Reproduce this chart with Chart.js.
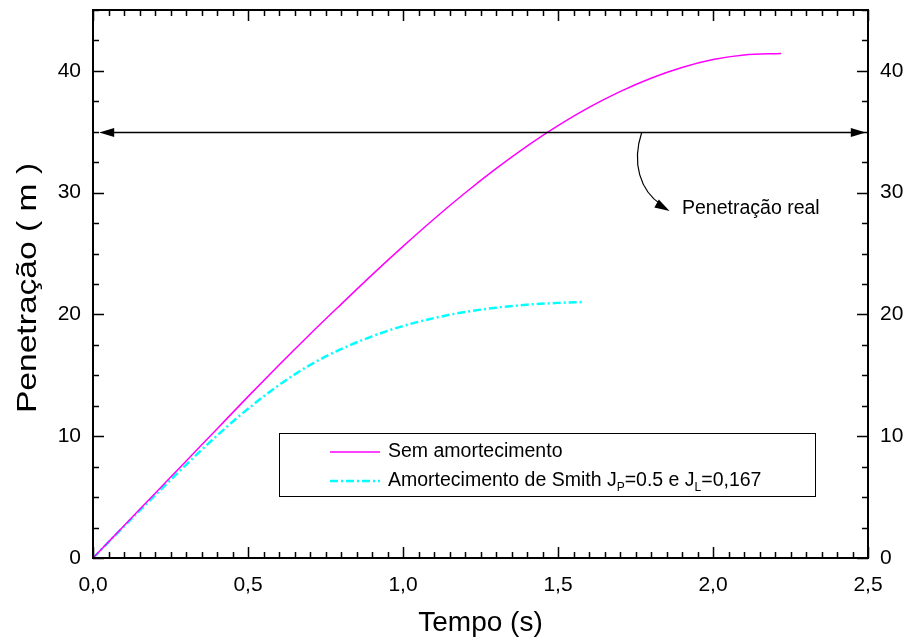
<!DOCTYPE html>
<html>
<head>
<meta charset="utf-8">
<script src="https://cdn.jsdelivr.net/npm/chart.js@4.4.0/dist/chart.umd.min.js"></script>
<style>
  html, body { margin: 0; padding: 0; background: #fff; }
  #wrap { width: 908px; height: 640px; }
</style>
</head>
<body>
<div id="wrap"><canvas id="myChart" width="908" height="640"></canvas></div>
<script>
// Sem amortecimento
const timeSem = [0, 0.1, 0.2, 0.3, 0.4, 0.5, 0.6, 0.7, 0.8, 0.9, 1.0, 1.1, 1.2, 1.3, 1.4, 1.5, 1.6, 1.7, 1.8, 1.9, 2.0, 2.1, 2.22];
const penSem = [0, 2.65, 5.30, 7.95, 10.60, 13.25, 15.85, 18.38, 20.83, 23.25, 25.59, 27.84, 29.97, 31.97, 33.82, 35.50, 37.00, 38.30, 39.40, 40.28, 40.93, 41.31, 41.43];
// Amortecimento de Smith
const timeSmith = [0, 0.1, 0.2, 0.3, 0.4, 0.5, 0.6, 0.7, 0.8, 0.9, 1.0, 1.1, 1.2, 1.3, 1.4, 1.5, 1.58];
const penSmith = [0, 2.6, 5.15, 7.65, 10.05, 12.25, 14.2, 15.85, 17.15, 18.2, 19.05, 19.7, 20.2, 20.55, 20.8, 20.95, 21.02];

const xTicks = [0, 0.5, 1.0, 1.5, 2.0, 2.5];
const yTicks = [0, 10, 20, 30, 40];
const penetracaoReal = 35;
const arrowSpan = [0.02, 2.493];
const labelReal = 'Penetração real';
const seriesNames = ['Sem amortecimento', 'Amortecimento de Smith'];
const yTitle = 'Penetração ( m )';

const FONT = '"Liberation Sans", Arial, sans-serif';

const toXY = (xs, ys) => xs.map((x, i) => ({ x: x, y: ys[i] }));
const fmt = v => v.toFixed(1).replace('.', ',');
const noPadY = s => { s.paddingTop = 0; s.paddingBottom = 0; };

// frame, inward ticks, arrows, legend, y title
const decor = {
  id: 'decor',
  afterDraw(chart) {
    const c = chart.ctx, a = chart.chartArea;
    const xs = chart.scales.x, ys = chart.scales.y;
    c.save();
    c.strokeStyle = '#000';
    c.lineWidth = 2;
    c.strokeRect(a.left, a.top, a.right - a.left, a.bottom - a.top);

    c.lineWidth = 1.5;
    c.beginPath();
    for (let k = 0; k <= 50; k++) {
      const px = Math.round(xs.getPixelForValue(k * 0.05)) + 0.5;
      const len = k % 10 === 0 ? 11 : 6;
      c.moveTo(px, a.bottom); c.lineTo(px, a.bottom - len);
      c.moveTo(px, a.top); c.lineTo(px, a.top + len);
    }
    for (let k = 0; k <= 18; k++) {
      const py = Math.round(ys.getPixelForValue(k * 2.5)) + 0.5;
      const len = k % 4 === 0 ? 11 : 6;
      c.moveTo(a.left, py); c.lineTo(a.left + len, py);
      c.moveTo(a.right, py); c.lineTo(a.right - len, py);
    }
    c.stroke();

    // horizontal double arrow
    const ay = Math.round(ys.getPixelForValue(penetracaoReal)) + 0.5;
    const x0 = xs.getPixelForValue(arrowSpan[0]);
    const x1 = xs.getPixelForValue(arrowSpan[1]);
    c.lineWidth = 1.5;
    c.beginPath(); c.moveTo(x0 + 10, ay); c.lineTo(x1 - 10, ay); c.stroke();
    c.fillStyle = '#000';
    c.beginPath(); c.moveTo(x0, ay); c.lineTo(x0 + 15, ay - 4.5); c.lineTo(x0 + 15, ay + 4.5); c.closePath(); c.fill();
    c.beginPath(); c.moveTo(x1, ay); c.lineTo(x1 - 15, ay - 4.5); c.lineTo(x1 - 15, ay + 4.5); c.closePath(); c.fill();

    // curved arrow to label
    const sx = xs.getPixelForValue(1.77), sy = ay;
    const ex = xs.getPixelForValue(1.86), ey = ys.getPixelForValue(28.5);
    c.lineWidth = 1.2;
    c.beginPath();
    c.moveTo(sx, sy);
    c.bezierCurveTo(sx - 10, sy + 30, sx - 2, sy + 58, ex - 8, ey - 6);
    c.stroke();
    c.save();
    c.translate(ex, ey);
    c.rotate(Math.atan2(8, 14));
    c.beginPath(); c.moveTo(0, 0); c.lineTo(-15, -4.5); c.lineTo(-15, 4.5); c.closePath(); c.fill();
    c.restore();

    c.font = '19.5px ' + FONT;
    c.textBaseline = 'middle';
    c.textAlign = 'left';
    c.fillText(labelReal, xs.getPixelForValue(1.9), ys.getPixelForValue(28.7));

    // legend
    c.lineWidth = 1;
    c.strokeRect(279.5, 433.5, 536, 63);
    const r1 = 452, r2 = 481;
    c.strokeStyle = '#ff00ff'; c.lineWidth = 1.5;
    c.beginPath(); c.moveTo(330, r1); c.lineTo(380, r1); c.stroke();
    c.strokeStyle = '#00ffff'; c.lineWidth = 2.5; c.setLineDash([8, 3, 2, 3]);
    c.beginPath(); c.moveTo(330, r2); c.lineTo(380, r2); c.stroke();
    c.setLineDash([]);
    c.fillStyle = '#000';
    c.font = '19.5px ' + FONT;
    c.fillText(seriesNames[0], 388, r1);
    let tx = 388;
    const part = (s, sub) => {
      c.font = (sub ? '12px ' : '19.5px ') + FONT;
      c.fillText(s, tx, sub ? r2 + 7 : r2);
      tx += c.measureText(s).width;
    };
    part(seriesNames[1] + ' J'); part('P', true); part('=0.5 e J'); part('L', true); part('=0,167');

    // y axis title (stretched along its baseline like the original)
    c.save();
    c.translate(28, (a.top + a.bottom) / 2 + 4);
    c.rotate(-Math.PI / 2);
    c.scale(1.2, 1);
    c.font = '28px ' + FONT;
    c.textAlign = 'center';
    c.textBaseline = 'middle';
    c.fillText(yTitle, 0, 0);
    c.restore();
    c.restore();
  }
};

const ctx = document.getElementById('myChart').getContext('2d');
const myChart = new Chart(ctx, {
  type: 'scatter',
  data: {
    datasets: [{
      label: seriesNames[0],
      data: toXY(timeSem, penSem),
      showLine: true,
      borderColor: '#ff00ff',
      borderWidth: 1.5,
      pointRadius: 0,
      cubicInterpolationMode: 'monotone'
    }, {
      label: seriesNames[1],
      data: toXY(timeSmith, penSmith),
      showLine: true,
      borderColor: '#00ffff',
      borderWidth: 2.5,
      borderDash: [8, 3, 2, 3],
      pointRadius: 0,
      cubicInterpolationMode: 'monotone'
    }]
  },
  options: {
    responsive: false,
    animation: false,
    devicePixelRatio: 1,
    layout: { padding: { top: 10, left: 0, right: 0, bottom: 0 } },
    plugins: { legend: { display: false }, tooltip: { enabled: false } },
    scales: {
      x: {
        type: 'linear', position: 'bottom', min: 0, max: 2.5,
        afterBuildTicks: s => { s.ticks = xTicks.map(v => ({ value: v })); },
        afterFit: s => { s.height = 82; s.paddingLeft = 0; s.paddingRight = 0; },
        ticks: { callback: v => fmt(v), color: '#000', font: { size: 21, family: FONT }, padding: 15, maxRotation: 0 },
        grid: { display: false, drawTicks: false },
        border: { display: false },
        title: { display: true, text: 'Tempo (s)', color: '#000', font: { size: 28, family: FONT }, padding: { top: 0, bottom: 0 } }
      },
      y: {
        type: 'linear', position: 'left', min: 0, max: 45,
        afterBuildTicks: s => { s.ticks = yTicks.map(v => ({ value: v })); },
        afterFit: s => { s.width = 93; noPadY(s); },
        ticks: { color: '#000', font: { size: 21, family: FONT }, padding: 12 },
        grid: { display: false, drawTicks: false },
        border: { display: false }
      },
      y2: {
        type: 'linear', position: 'right', min: 0, max: 45,
        afterBuildTicks: s => { s.ticks = yTicks.map(v => ({ value: v })); },
        afterFit: s => { s.width = 40; noPadY(s); },
        ticks: { color: '#000', font: { size: 21, family: FONT }, padding: 12 },
        grid: { display: false, drawTicks: false },
        border: { display: false }
      }
    }
  },
  plugins: [decor]
});
</script>
</body>
</html>
